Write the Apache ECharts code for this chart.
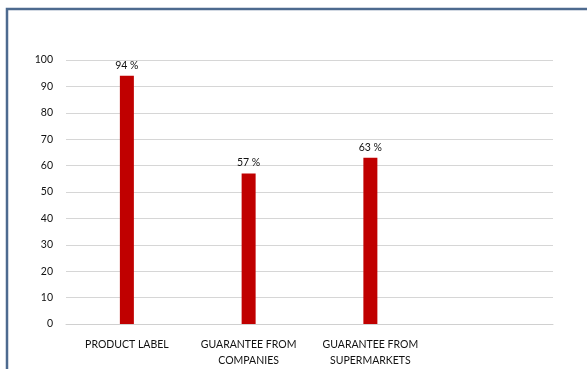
<!DOCTYPE html>
<html><head><meta charset="utf-8">
<script src="https://cdn.jsdelivr.net/npm/echarts@6/dist/echarts.min.js"></script>
<style>html,body{margin:0;padding:0;background:#fff}#c{width:587px;height:369px}</style>
</head><body><div id="c"></div>
<script>
const categories = ['PRODUCT LABEL', 'GUARANTEE FROM\nCOMPANIES', 'GUARANTEE FROM\nSUPERMARKETS', ''];
const values = [94, 57, 63, null];
const yTicks = [0, 100, 10];

const chart = echarts.init(document.getElementById('c'));
chart.setOption({
  animation: false,
  backgroundColor: '#fff',
  graphic: [{
    type: 'rect', shape: {x: 7, y: 9, width: 620, height: 400},
    style: {fill: 'none', stroke: '#4d6a8f', lineWidth: 2.5}, z: 10
  }],
  grid: {left: 66, right: 34, top: 60, bottom: 45},
  xAxis: {
    type: 'category', data: categories,
    axisLine: {lineStyle: {color: '#d0d0d0'}},
    axisTick: {show: false},
    axisLabel: {color: '#111', fontFamily: 'Lato', fontSize: 10.5, margin: 13, lineHeight: 16, interval: 0}
  },
  yAxis: {
    type: 'value', min: yTicks[0], max: yTicks[1], interval: yTicks[2],
    axisLine: {show: false}, axisTick: {show: false},
    splitLine: {lineStyle: {color: '#d6d6d6'}},
    axisLabel: {color: '#111', fontFamily: 'Lato', fontSize: 10.5, margin: 13}
  },
  series: [{
    type: 'bar', data: values, barWidth: 14,
    itemStyle: {color: '#c00000'},
    label: {show: true, position: 'top', formatter: p => p.value + ' %', color: '#111', fontFamily: 'Lato', fontSize: 10.5, distance: 5}
  }]
});
</script></body></html>
